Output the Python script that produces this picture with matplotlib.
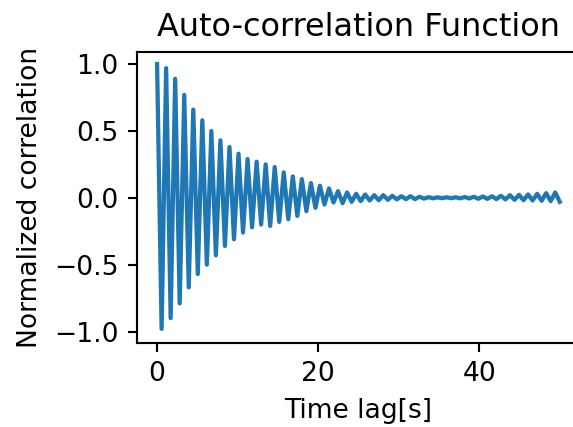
import numpy as np
import matplotlib
matplotlib.use("Agg")
import matplotlib.pyplot as plt

# Oscillation period of the correlation (s) and total lag span
period_s = 50 / 44.5

# Local maxima of the normalized auto-correlation, one per period
peak_values = [
    1.00, 0.97, 0.89, 0.77, 0.66, 0.58, 0.50, 0.43, 0.38, 0.33,
    0.29, 0.27, 0.25, 0.23, 0.19, 0.16, 0.14, 0.11, 0.09, 0.07,
    0.05, 0.04, 0.03, 0.025, 0.02, 0.02, 0.015, 0.012, 0.012, 0.008,
    0.005, 0.004, 0.004, 0.004, 0.006, 0.008, 0.010, 0.012, 0.015, 0.020,
    0.022, 0.025, 0.030, 0.035, 0.040,
]

# Local minima, half a period after each maximum
trough_values = [
    -0.98, -0.90, -0.79, -0.67, -0.57, -0.50, -0.43, -0.36, -0.31, -0.26,
    -0.22, -0.20, -0.21, -0.18, -0.16, -0.135, -0.10, -0.075, -0.05, -0.035,
    -0.04, -0.03, -0.025, -0.02, -0.018, -0.015, -0.012, -0.010, -0.010, -0.006,
    -0.004, -0.003, -0.003, -0.004, -0.005, -0.007, -0.008, -0.010, -0.012, -0.015,
    -0.018, -0.020, -0.022, -0.025, -0.030,
]

acf = np.empty(len(peak_values) + len(trough_values))
acf[0::2] = peak_values
acf[1::2] = trough_values
lag = np.arange(len(acf)) * period_s / 2

dpi = 191
fig = plt.figure(figsize=(573 / dpi, 427 / dpi), dpi=dpi)
ax = fig.add_axes([0.239, 0.197, 0.773, 0.681])
ax.plot(lag, acf, color="#1f77b4", linewidth=1.6, solid_joinstyle="round")
ax.set_xlim(-2.5, 52.5)
ax.set_ylim(-1.085, 1.09)
ax.set_xticks([0, 20, 40])
ax.set_yticks([-1.0, -0.5, 0.0, 0.5, 1.0])
ax.set_title("Auto-correlation Function")
ax.set_xlabel("Time lag[s]")
ax.set_ylabel("Normalized correlation")

fig.savefig("out.png", dpi=dpi)
